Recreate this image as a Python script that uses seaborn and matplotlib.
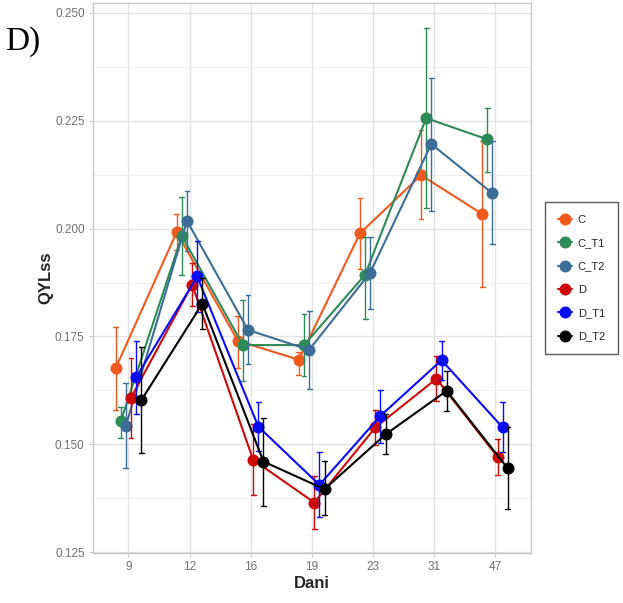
import numpy as np
import pandas as pd
import matplotlib
matplotlib.use("Agg")
import matplotlib.pyplot as plt
import seaborn as sns
from matplotlib.ticker import MultipleLocator

# Sampling days and treatment groups
days = ["9", "12", "16", "19", "23", "31", "47"]
groups = ["C", "C_T1", "C_T2", "D", "D_T1", "D_T2"]

# Mean QYLss per group and day
mean_C    = [0.1676, 0.1992, 0.1740, 0.1696, 0.1989, 0.2124, 0.2034]
mean_C_T1 = [0.1553, 0.1983, 0.1730, 0.1730, 0.1893, 0.2256, 0.2207]
mean_C_T2 = [0.1543, 0.2018, 0.1765, 0.1719, 0.1898, 0.2196, 0.2082]
mean_D    = [0.1608, 0.1870, 0.1464, 0.1365, 0.1539, 0.1652, 0.1471]
mean_D_T1 = [0.1655, 0.1889, 0.1541, 0.1406, 0.1566, 0.1695, 0.1539]
mean_D_T2 = [0.1602, 0.1826, 0.1460, 0.1396, 0.1523, 0.1624, 0.1444]

# Lower ends of the error bars
low_C    = [0.1579, 0.1950, 0.1676, 0.1661, 0.1906, 0.2022, 0.1864]
low_C_T1 = [0.1515, 0.1893, 0.1647, 0.1658, 0.1790, 0.2047, 0.2132]
low_C_T2 = [0.1444, 0.1948, 0.1685, 0.1628, 0.1813, 0.2041, 0.1964]
low_D    = [0.1514, 0.1821, 0.1382, 0.1304, 0.1498, 0.1600, 0.1429]
low_D_T1 = [0.1570, 0.1806, 0.1485, 0.1332, 0.1502, 0.1648, 0.1481]
low_D_T2 = [0.1479, 0.1767, 0.1357, 0.1335, 0.1477, 0.1577, 0.1349]

# Upper ends of the error bars
up_C    = [0.1773, 0.2034, 0.1798, 0.1713, 0.2072, 0.2229, 0.2204]
up_C_T1 = [0.1587, 0.2073, 0.1835, 0.1801, 0.1980, 0.2464, 0.2279]
up_C_T2 = [0.1643, 0.2088, 0.1845, 0.1808, 0.1980, 0.2349, 0.2202]
up_D    = [0.1701, 0.1920, 0.1546, 0.1427, 0.1579, 0.1705, 0.1512]
up_D_T1 = [0.1740, 0.1972, 0.1599, 0.1481, 0.1625, 0.1740, 0.1597]
up_D_T2 = [0.1726, 0.1885, 0.1562, 0.1461, 0.1570, 0.1670, 0.1539]

means = [mean_C, mean_C_T1, mean_C_T2, mean_D, mean_D_T1, mean_D_T2]
lows = [low_C, low_C_T1, low_C_T2, low_D, low_D_T1, low_D_T2]
ups = [up_C, up_C_T1, up_C_T2, up_D, up_D_T1, up_D_T2]

colors = ["#F05A1E", "#2E8B57", "#3D6D96", "#CC0A0A", "#0A0AF5", "#000000"]

# Long table: lower / mean / upper rows so that the median is the mean and
# the full range is the error bar
rows = []
for g, m, lo, hi in zip(groups, means, lows, ups):
    for d, mv, lv, hv in zip(days, m, lo, hi):
        for v in (lv, mv, hv):
            rows.append({"Dani": d, "Grupa": g, "QYLss": v})
df = pd.DataFrame(rows)

sns.set_theme(style="white")
plt.rcParams["font.family"] = ["Liberation Sans", "DejaVu Sans"]

fig = plt.figure(figsize=(6.23, 6.03), dpi=100)
ax = fig.add_axes([93 / 623, 50 / 603, 438 / 623, 550 / 603])

sns.pointplot(
    data=df, x="Dani", y="QYLss", hue="Grupa",
    order=days, hue_order=groups, palette=colors,
    estimator="median", errorbar=("pi", 100),
    dodge=0.42, capsize=0.08, markers="o", markersize=7.5,
    linewidth=1.5, err_kws={"linewidth": 1.0},
    ax=ax,
)

ax.set_xlim(-0.58, 6.59)
ax.set_ylim(0.1248, 0.2523)
ax.yaxis.set_major_locator(MultipleLocator(0.025))
ax.yaxis.set_minor_locator(MultipleLocator(0.0125))
ax.set_yticklabels([f"{t:.3f}" for t in ax.get_yticks()])

ax.grid(which="major", axis="both", color="#E3E3E3", linewidth=1.0)
ax.grid(which="minor", axis="y", color="#EFEFEF", linewidth=0.8)
ax.set_axisbelow(True)
for s in ax.spines.values():
    s.set_color("#C8C8C8")
    s.set_linewidth(1.0)

ax.tick_params(axis="both", which="major", length=3, width=0.8, color="#C8C8C8",
               labelsize=8.5, labelcolor="#707070", pad=3, left=True, bottom=True)
ax.tick_params(axis="y", which="minor", length=0)

ax.set_xlabel("Dani", fontsize=12, fontweight="bold", labelpad=2)
ax.set_ylabel("QYLss", fontsize=12, fontweight="bold", labelpad=1)

sns.move_legend(
    ax, loc="upper left", bbox_to_anchor=(545 / 623, 401 / 603),
    bbox_transform=fig.transFigure, title=None, frameon=True,
    fontsize=8, handlelength=1.3, handletextpad=0.5, labelspacing=1.2,
    borderpad=1.15, borderaxespad=0,
)
leg = ax.get_legend()
leg.get_frame().set_edgecolor("#333333")
leg.get_frame().set_linewidth(1.0)
leg.get_frame().set_boxstyle("square", pad=0)
for t in leg.get_texts():
    t.set_color("#222222")

fig.text(5 / 623, 1 - 50 / 603, "D)", fontsize=24, color="#000000",
         family=["Liberation Serif", "DejaVu Serif"], va="baseline", ha="left")

fig.savefig("out.png", dpi=100)
